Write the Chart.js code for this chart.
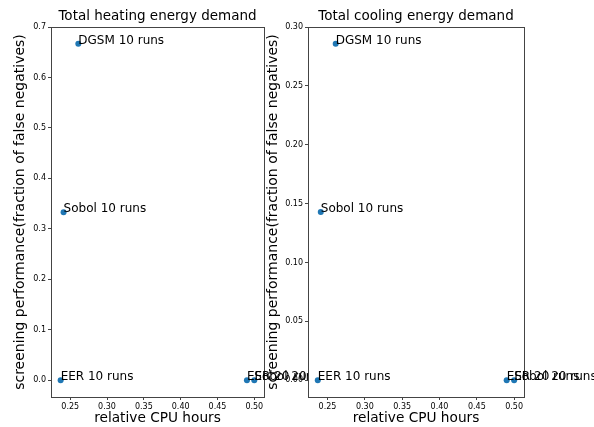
<!DOCTYPE html>
<html>
<head>
<meta charset="utf-8">
<script src="https://cdn.jsdelivr.net/npm/chart.js@4.4.0/dist/chart.umd.min.js"></script>
<style>
  html, body { margin: 0; padding: 0; background: #fff; }
  #wrap { position: relative; width: 594px; height: 427px; overflow: hidden; }
  #wrap canvas { position: absolute; left: 0; top: 0; }
</style>
</head>
<body>
<div id="wrap">
  <canvas id="heatChart" width="594" height="427"></canvas>
  <canvas id="coolChart" width="594" height="427"></canvas>
</div>
<script>
// data
const runLabels = ['DGSM 10 runs', 'Sobol 10 runs', 'EER 10 runs', 'EER 20 runs', 'Sobol 20 runs'];
const cpuHours = [0.261, 0.241, 0.237, 0.49, 0.50];
const heatingFalseNeg = [0.667, 0.333, 0, 0, 0];
const coolingFalseNeg = [0.2857, 0.1429, 0, 0, 0];

const xTicks = [0.25, 0.30, 0.35, 0.40, 0.45, 0.50];
const xTickLabels = ['0.25', '0.30', '0.35', '0.40', '0.45', '0.50'];
const heatYTicks = [0, 0.1, 0.2, 0.3, 0.4, 0.5, 0.6, 0.7];
const heatYTickLabels = ['0.0', '0.1', '0.2', '0.3', '0.4', '0.5', '0.6', '0.7'];
const coolYTicks = [0, 0.05, 0.10, 0.15, 0.20, 0.25, 0.30];
const coolYTickLabels = ['0.00', '0.05', '0.10', '0.15', '0.20', '0.25', '0.30'];

const FONT = "'DejaVu Sans', sans-serif";
const yTitle = 'screening performance(fraction of false negatives)';

// white plot background, frame, title and point labels
const plotDecor = {
  id: 'plotDecor',
  beforeDraw(chart) {
    const a = chart.chartArea, ctx = chart.ctx;
    ctx.save();
    ctx.fillStyle = '#fff';
    ctx.fillRect(a.left, a.top, a.right - a.left, a.bottom - a.top);
    ctx.restore();
  },
  afterDraw(chart, args, opts) {
    const a = chart.chartArea, ctx = chart.ctx;
    ctx.save();
    ctx.strokeStyle = '#444';
    ctx.lineWidth = 1;
    ctx.strokeRect(Math.round(a.left) + 0.5, Math.round(a.top) + 0.5,
      Math.round(a.right - a.left), Math.round(a.bottom - a.top));

    ctx.fillStyle = '#000';
    ctx.font = '13.5px ' + FONT;
    ctx.textAlign = 'center';
    ctx.textBaseline = 'middle';
    ctx.fillText(opts.title, (a.left + a.right) / 2, 16);

    const xs = chart.scales.x, ys = chart.scales.y;
    const ds = chart.data.datasets[0].data;
    ctx.font = '12px ' + FONT;
    ctx.textAlign = 'left';
    ctx.textBaseline = 'alphabetic';
    ds.forEach((p, i) => {
      ctx.fillText(runLabels[i], xs.getPixelForValue(p.x), ys.getPixelForValue(p.y));
    });
    ctx.restore();
  }
};

function makeChart(id, title, yVals, yTicks, yTickLabels, yMin, yMax, box) {
  const ctx = document.getElementById(id).getContext('2d');
  return new Chart(ctx, {
    type: 'scatter',
    data: {
      datasets: [{
        data: cpuHours.map((x, i) => ({ x: x, y: yVals[i] })),
        backgroundColor: '#1f77b4',
        borderWidth: 0,
        pointRadius: 3,
        pointHoverRadius: 3
      }]
    },
    options: {
      responsive: false,
      animation: false,
      devicePixelRatio: 1,
      layout: { padding: { left: box.padLeft, right: box.padRight, top: box.top, bottom: 0 } },
      plugins: {
        legend: { display: false },
        tooltip: { enabled: false },
        plotDecor: { title: title }
      },
      scales: {
        x: {
          type: 'linear',
          min: 0.2239,
          max: 0.5132,
          afterBuildTicks: s => { s.ticks = xTicks.map(v => ({ value: v })); },
          afterFit: s => { s.height = box.xHeight; },
          ticks: {
            autoSkip: false,
            maxRotation: 0,
            padding: 2,
            color: '#000',
            font: { family: FONT, size: 8 },
            callback: v => xTickLabels[xTicks.indexOf(v)]
          },
          grid: { display: true, drawOnChartArea: false, tickLength: 3, color: '#444' },
          border: { display: false },
          title: {
            display: true,
            text: 'relative CPU hours',
            color: '#000',
            padding: 0,
            font: { family: FONT, size: 13.7 }
          }
        },
        y: {
          type: 'linear',
          min: yMin,
          max: yMax,
          afterBuildTicks: s => { s.ticks = yTicks.map(v => ({ value: v })); },
          afterFit: s => { s.width = box.yWidth; },
          ticks: {
            autoSkip: false,
            padding: 2,
            color: '#000',
            font: { family: FONT, size: 8 },
            callback: v => yTickLabels[yTicks.indexOf(v)]
          },
          grid: { display: true, drawOnChartArea: false, tickLength: 3, color: '#444' },
          border: { display: false },
          title: {
            display: true,
            text: yTitle,
            color: '#000',
            padding: 0,
            font: { family: FONT, size: 14 }
          }
        }
      }
    },
    plugins: [plotDecor]
  });
}

makeChart('heatChart', 'Total heating energy demand', heatingFalseNeg, heatYTicks, heatYTickLabels,
  -0.0333, 0.7, { padLeft: 12, yWidth: 39, padRight: 330, top: 27, xHeight: 30 });
makeChart('coolChart', 'Total cooling energy demand', coolingFalseNeg, coolYTicks, coolYTickLabels,
  -0.0143, 0.3, { padLeft: 265, yWidth: 43, padRight: 70, top: 27, xHeight: 30 });
</script>
</body>
</html>
